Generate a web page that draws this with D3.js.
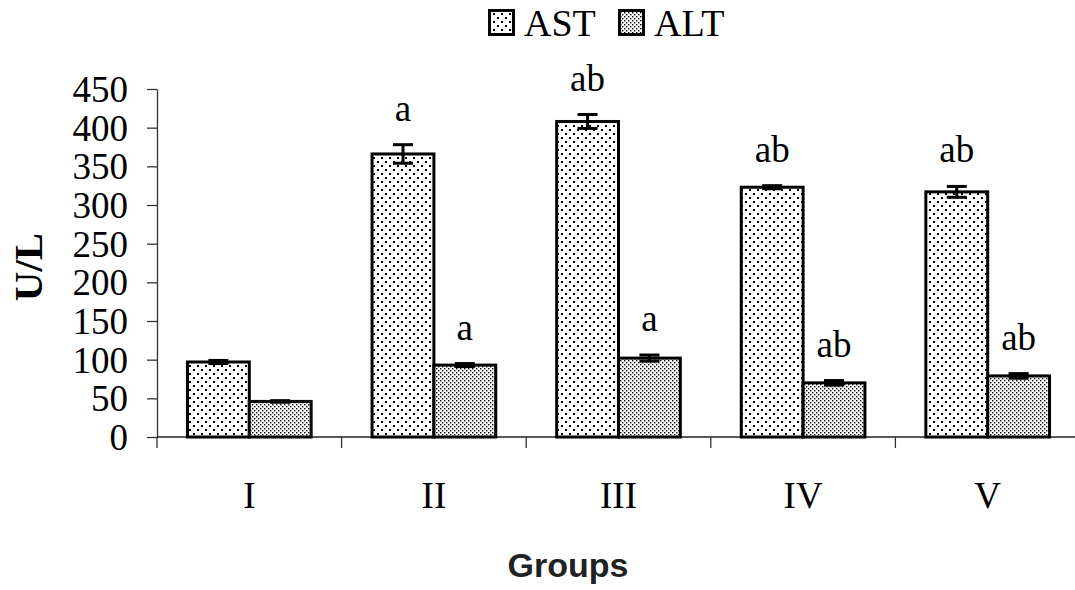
<!DOCTYPE html>
<html lang="en">
<head>
  <meta charset="UTF-8">
  <title>AST / ALT by group</title>
  <script src="https://d3js.org/d3.v7.min.js"></script>
  <style>
    body {
      margin: 0;
      background-color: #ffffff;
    }
    svg {
      display: block;
    }
    .tick-label, .ann, .legend-text {
      font-family: "Liberation Serif", "Times New Roman", serif;
      fill: #000;
    }
  </style>
</head>
<body>
  <div id="chart"></div>

  <script>
    // data
    const groups = ['I', 'II', 'III', 'IV', 'V'];
    const series = ['AST', 'ALT'];
    const astValues = [97, 366, 408, 323, 317];
    const astErrors = [2, 12, 9, 2, 7];
    const altValues = [46, 93, 102, 70, 79];
    const altErrors = [1, 2, 4, 3, 3];
    const astLabels = ['', 'a', 'ab', 'ab', 'ab'];
    const altLabels = ['', 'a', 'a', 'ab', 'ab'];
    const yTicks = [0, 50, 100, 150, 200, 250, 300, 350, 400, 450];

    const width = 1075, height = 590;
    const margin = { left: 157, top: 89, bottom: 153 };
    const x0 = 157, x1 = 1080, yBase = 437;

    const svg = d3.select('#chart')
      .append('svg')
      .attr('width', width)
      .attr('height', height);

    // patterns: sparse dots for AST, dense dots for ALT
    const defs = svg.append('defs');
    const pSparse = defs.append('pattern')
      .attr('id', 'pat-ast')
      .attr('patternUnits', 'userSpaceOnUse')
      .attr('width', 8).attr('height', 8);
    pSparse.append('rect').attr('width', 8).attr('height', 8).attr('fill', '#fff');
    pSparse.append('rect').attr('x', 1).attr('y', 1).attr('width', 2).attr('height', 2).attr('fill', '#000');
    pSparse.append('rect').attr('x', 5).attr('y', 5).attr('width', 2).attr('height', 2).attr('fill', '#000');

    const pDense = defs.append('pattern')
      .attr('id', 'pat-alt')
      .attr('patternUnits', 'userSpaceOnUse')
      .attr('width', 4).attr('height', 4);
    pDense.append('rect').attr('width', 4).attr('height', 4).attr('fill', '#fff');
    pDense.append('rect').attr('x', 0).attr('y', 0).attr('width', 1.4).attr('height', 1.4).attr('fill', '#000');
    pDense.append('rect').attr('x', 2).attr('y', 2).attr('width', 1.4).attr('height', 1.4).attr('fill', '#000');

    const fills = { AST: 'url(#pat-ast)', ALT: 'url(#pat-alt)' };

    const x = d3.scaleBand()
      .domain(groups)
      .range([x0, x1])
      .paddingInner(0.33)
      .paddingOuter(0.165);

    const xSub = d3.scaleBand()
      .domain(series)
      .range([0, x.bandwidth()]);

    const y = d3.scaleLinear()
      .domain([0, 450])
      .range([yBase, margin.top]);

    // y axis
    const yAxis = svg.append('g')
      .attr('transform', `translate(${x0},0)`)
      .call(d3.axisLeft(y).tickValues(yTicks).tickSize(10).tickPadding(19).tickSizeOuter(0));
    yAxis.select('.domain').attr('stroke', '#333').attr('stroke-width', 1.3);
    yAxis.selectAll('.tick line').attr('stroke', '#333').attr('stroke-width', 1.3);
    yAxis.selectAll('.tick text')
      .attr('class', 'tick-label')
      .style('font-size', '37px')
      .attr('dy', '0.34em');
    svg.append('line')
      .attr('x1', x0).attr('x2', x0)
      .attr('y1', yBase).attr('y2', yBase + 11)
      .attr('stroke', '#333').attr('stroke-width', 1.3);

    // x axis line + boundary ticks
    svg.append('line')
      .attr('x1', x0).attr('x2', width)
      .attr('y1', yBase).attr('y2', yBase)
      .attr('stroke', '#222').attr('stroke-width', 1.5);
    groups.slice(1).forEach(g => {
      const bx = x(g) - x.step() * x.paddingInner() / 2;
      svg.append('line')
        .attr('x1', bx).attr('x2', bx)
        .attr('y1', yBase).attr('y2', yBase + 11)
        .attr('stroke', '#333').attr('stroke-width', 1.3);
    });

    // group labels
    svg.selectAll('.glabel')
      .data(groups)
      .enter()
      .append('text')
      .attr('class', 'tick-label')
      .attr('x', d => x(d) + x.bandwidth() / 2)
      .attr('y', 508)
      .attr('text-anchor', 'middle')
      .style('font-size', '37px')
      .text(d => d);

    // bars
    const rows = [];
    groups.forEach((g, i) => {
      rows.push({ g, s: 'AST', v: astValues[i], e: astErrors[i], lab: astLabels[i] });
      rows.push({ g, s: 'ALT', v: altValues[i], e: altErrors[i], lab: altLabels[i] });
    });

    svg.selectAll('.bar')
      .data(rows)
      .enter()
      .append('rect')
      .attr('x', d => x(d.g) + xSub(d.s))
      .attr('y', d => y(d.v))
      .attr('width', xSub.bandwidth())
      .attr('height', d => y(0) - y(d.v))
      .attr('fill', d => fills[d.s])
      .attr('stroke', '#000')
      .attr('stroke-width', 3);

    // error bars
    const cap = 10;
    rows.forEach(d => {
      const cx = x(d.g) + xSub(d.s) + xSub.bandwidth() / 2;
      const g = svg.append('g').attr('stroke', '#000').attr('stroke-width', 3);
      g.append('line').attr('x1', cx).attr('x2', cx).attr('y1', y(d.v + d.e)).attr('y2', y(d.v - d.e));
      g.append('line').attr('x1', cx - cap).attr('x2', cx + cap).attr('y1', y(d.v + d.e)).attr('y2', y(d.v + d.e));
      g.append('line').attr('x1', cx - cap).attr('x2', cx + cap).attr('y1', y(d.v - d.e)).attr('y2', y(d.v - d.e));
    });

    // significance letters
    svg.selectAll('.ann')
      .data(rows.filter(d => d.lab))
      .enter()
      .append('text')
      .attr('class', 'ann')
      .attr('x', d => x(d.g) + xSub(d.s) + xSub.bandwidth() / 2)
      .attr('y', d => y(d.v + d.e) - 24)
      .attr('text-anchor', 'middle')
      .style('font-size', '37px')
      .text(d => d.lab);

    // axis titles
    svg.append('text')
      .attr('transform', 'translate(42,267) rotate(-90)')
      .attr('text-anchor', 'middle')
      .style('font-family', '"Liberation Serif", "Times New Roman", serif')
      .style('font-weight', 'bold')
      .style('font-size', '41px')
      .text('U/L');

    svg.append('text')
      .attr('x', 568)
      .attr('y', 577)
      .attr('text-anchor', 'middle')
      .style('font-family', '"Liberation Sans", Arial, sans-serif')
      .style('font-weight', 'bold')
      .style('font-size', '34px')
      .attr('fill', '#222')
      .text('Groups');

    // legend
    const legend = svg.append('g');
    const legendX = [488, 618];
    series.forEach((s, i) => {
      legend.append('rect')
        .attr('x', legendX[i] + 1.5).attr('y', 10.5)
        .attr('width', 24).attr('height', 24)
        .attr('fill', fills[s])
        .attr('stroke', '#000').attr('stroke-width', 3);
      legend.append('text')
        .attr('class', 'legend-text')
        .attr('x', legendX[i] + 36)
        .attr('y', 36)
        .style('font-size', '38px')
        .text(s);
    });
  </script>
</body>
</html>
